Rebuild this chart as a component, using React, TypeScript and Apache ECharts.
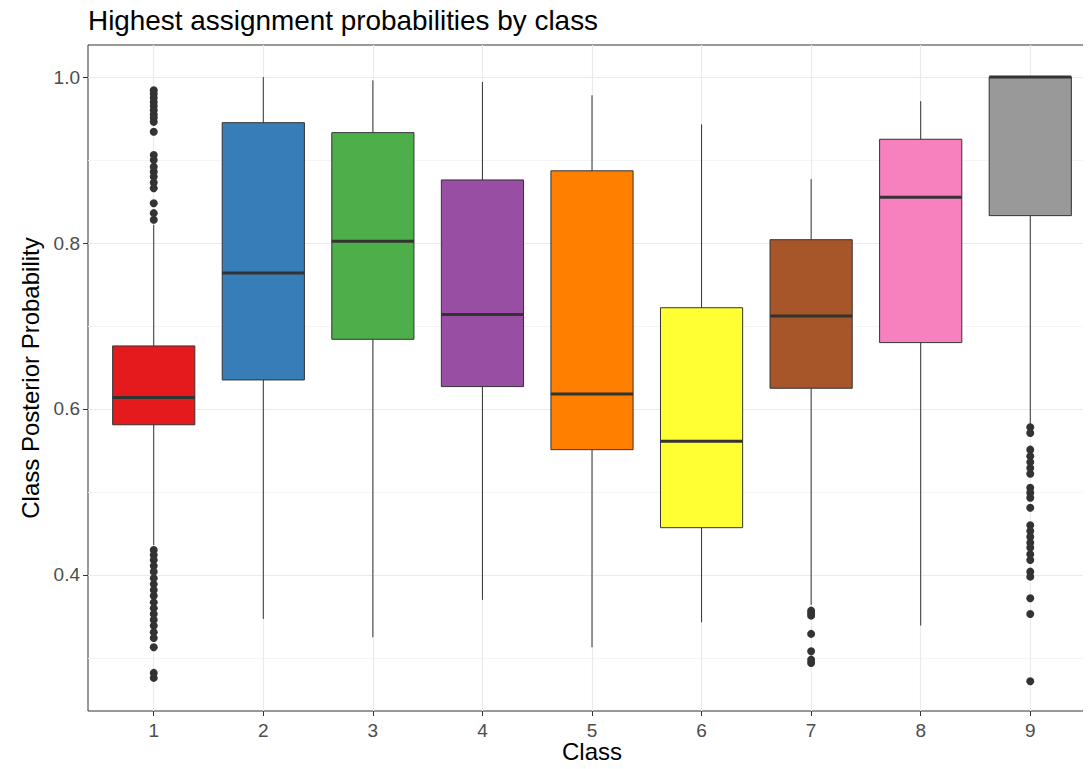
import React, { useEffect, useRef } from "react";
import * as echarts from "echarts";

const classes = [1, 2, 3, 4, 5, 6, 7, 8, 9];
const lowerWhisker = [0.436, 0.347, 0.325, 0.37, 0.313, 0.343, 0.364, 0.339, 0.581];
const q1 = [0.581, 0.635, 0.684, 0.627, 0.551, 0.457, 0.625, 0.68, 0.833];
const median = [0.614, 0.764, 0.802, 0.714, 0.618, 0.561, 0.712, 0.855, 1.0];
const q3 = [0.676, 0.945, 0.933, 0.876, 0.887, 0.722, 0.804, 0.925, 1.0];
const upperWhisker = [0.822, 1.0, 0.996, 0.994, 0.978, 0.943, 0.877, 0.971, 1.0];

const outliers1 = [
  0.984, 0.98, 0.975, 0.97, 0.965, 0.96, 0.955, 0.951, 0.946, 0.934, 0.906, 0.9, 0.892, 0.886, 0.88,
  0.873, 0.866, 0.848, 0.836, 0.828, 0.43, 0.424, 0.418, 0.411, 0.404, 0.396, 0.389, 0.382, 0.375,
  0.367, 0.36, 0.353, 0.346, 0.339, 0.331, 0.324, 0.313, 0.282, 0.276,
];
const outliers7 = [0.357, 0.354, 0.351, 0.329, 0.308, 0.298, 0.294];
const outliers9 = [
  0.578, 0.571, 0.551, 0.543, 0.536, 0.529, 0.522, 0.505, 0.499, 0.493, 0.481, 0.46, 0.453, 0.446,
  0.439, 0.433, 0.425, 0.418, 0.404, 0.398, 0.372, 0.353, 0.272,
];

const yTicks = [0.4, 0.6, 0.8, 1.0];
const yMinor = [0.3, 0.5, 0.7, 0.9];
const xTitle = "Class";
const palette = ["#E41A1C", "#377EB8", "#4DAF4A", "#984EA3", "#FF7F00", "#FFFF33", "#A65628", "#F781BF", "#999999"];

export default function App() {
  const ref = useRef<HTMLDivElement>(null);
  useEffect(() => {
    if (!ref.current) return;
    const chart = echarts.init(ref.current, null, { renderer: "svg" });
    const boxData = classes.map((c, i) => [c, lowerWhisker[i], q1[i], median[i], q3[i], upperWhisker[i]]);
    const outlierData: number[][] = [
      ...outliers1.map((v) => [1, v]),
      ...outliers7.map((v) => [7, v]),
      ...outliers9.map((v) => [9, v]),
    ];
    const font = "Liberation Sans, Arial, sans-serif";
    chart.setOption({
      animation: false,
      backgroundColor: "#ffffff",
      title: {
        text: "Highest assignment probabilities by class",
        left: 88,
        top: 6,
        padding: 0,
        textStyle: { fontSize: 27.9, fontWeight: "normal", color: "#000", fontFamily: font },
      },
      graphic: [
        {
          type: "text",
          x: 592,
          y: 751,
          z: 100,
          style: {
            text: xTitle,
            fontSize: 24,
            fill: "#000",
            fontFamily: font,
            textAlign: "center",
            textVerticalAlign: "middle",
          },
        },
      ],
      grid: {
        left: 88,
        top: 45,
        width: 1008,
        height: 666,
        outerBoundsMode: "none",
        containLabel: false,
        show: true,
        borderColor: "#333333",
        borderWidth: 1,
        backgroundColor: "#ffffff",
      },
      xAxis: {
        type: "value",
        min: 0.4,
        max: 9.6,
        axisLine: { show: false },
        axisTick: { show: true, length: 5, customValues: classes, lineStyle: { color: "#333" } },
        axisLabel: { customValues: classes, fontSize: 19, color: "#4D4D4D", fontFamily: font, margin: 10 },
        splitLine: { show: false },
      },
      yAxis: {
        type: "value",
        min: 0.2361,
        max: 1.0386,
        name: "Class Posterior Probability",
        nameLocation: "middle",
        nameGap: 44,
        nameTextStyle: { fontSize: 24, color: "#000", fontFamily: font },
        axisLine: { show: false },
        axisTick: { show: true, length: 5, customValues: yTicks, lineStyle: { color: "#333" } },
        axisLabel: {
          customValues: yTicks,
          fontSize: 19,
          color: "#4D4D4D",
          fontFamily: font,
          margin: 8,
          formatter: (v: number) => v.toFixed(1),
        },
        splitLine: { show: false },
      },
      series: [
        {
          type: "line",
          data: [],
          silent: true,
          z: 0,
          markLine: {
            silent: true,
            symbol: "none",
            label: { show: false },
            animation: false,
            data: [
              ...yMinor.map((v) => ({ yAxis: v, lineStyle: { color: "#F5F5F5", width: 1, type: "solid" } })),
              ...yTicks.map((v) => ({ yAxis: v, lineStyle: { color: "#EBEBEB", width: 1.2, type: "solid" } })),
              ...classes.map((c) => ({ xAxis: c, lineStyle: { color: "#EBEBEB", width: 1.2, type: "solid" } })),
            ],
          },
        },
        {
          type: "custom",
          z: 5,
          data: boxData,
          encode: { x: 0, y: [1, 2, 3, 4, 5] },
          renderItem: (params: any, api: any) => {
            const x = api.value(0);
            const lo = api.coord([x, api.value(1)]);
            const b1 = api.coord([x, api.value(2)]);
            const md = api.coord([x, api.value(3)]);
            const b3 = api.coord([x, api.value(4)]);
            const hi = api.coord([x, api.value(5)]);
            const w = api.size([0.75, 0])[0];
            const color = palette[params.dataIndex];
            return {
              type: "group",
              children: [
                { type: "line", shape: { x1: lo[0], y1: lo[1], x2: b1[0], y2: b1[1] }, style: { stroke: "#333", lineWidth: 1 } },
                { type: "line", shape: { x1: b3[0], y1: b3[1], x2: hi[0], y2: hi[1] }, style: { stroke: "#333", lineWidth: 1 } },
                {
                  type: "rect",
                  shape: { x: b3[0] - w / 2, y: b3[1], width: w, height: b1[1] - b3[1] },
                  style: { fill: color, stroke: "#333", lineWidth: 1 },
                },
                {
                  type: "line",
                  shape: { x1: md[0] - w / 2, y1: md[1], x2: md[0] + w / 2, y2: md[1] },
                  style: { stroke: "#333", lineWidth: 3 },
                },
              ],
            };
          },
        },
        {
          type: "scatter",
          z: 6,
          data: outlierData,
          symbol: "circle",
          symbolSize: 8,
          itemStyle: { color: "#333333", opacity: 1 },
          silent: true,
        },
      ],
    });
    return () => chart.dispose();
  }, []);
  return <div ref={ref} style={{ width: 1091, height: 769, margin: -8 }} />;
}
